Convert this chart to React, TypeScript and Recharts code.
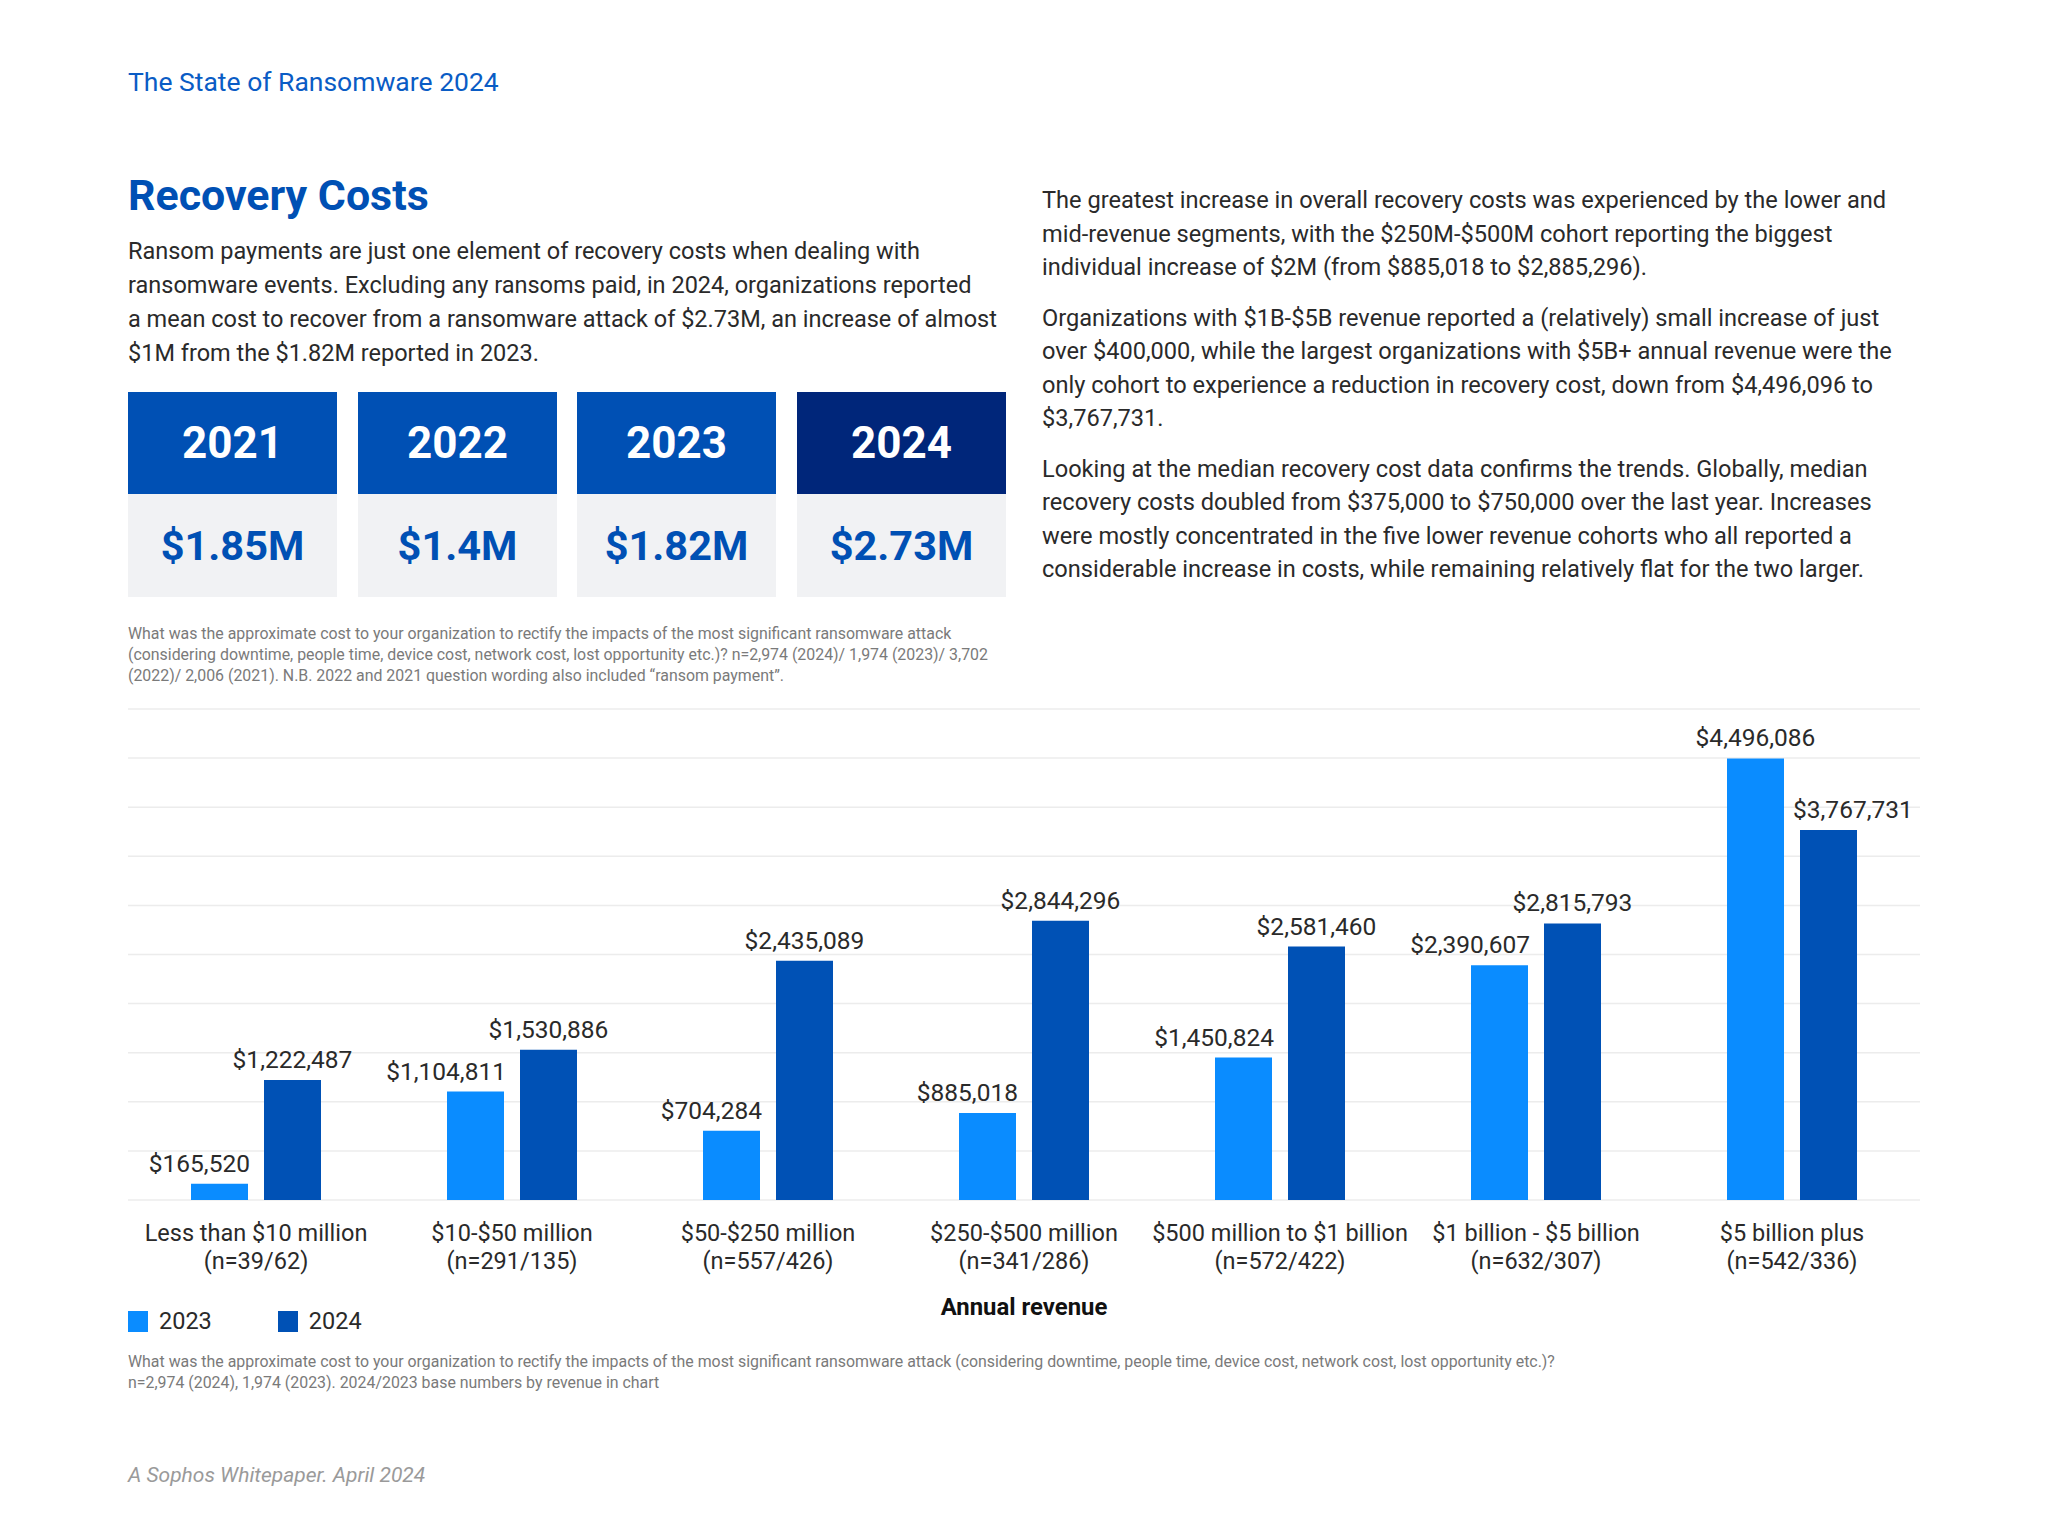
import React from "react";
import { BarChart, Bar, XAxis, YAxis, CartesianGrid, LabelList } from "recharts";

const categories = [
  "Less than $10 million",
  "$10-$50 million",
  "$50-$250 million",
  "$250-$500 million",
  "$500 million to $1 billion",
  "$1 billion - $5 billion",
  "$5 billion plus",
];
const baseCounts = [
  "(n=39/62)",
  "(n=291/135)",
  "(n=557/426)",
  "(n=341/286)",
  "(n=572/422)",
  "(n=632/307)",
  "(n=542/336)",
];
const values2023 = [165520, 1104811, 704284, 885018, 1450824, 2390607, 4496086];
const values2024 = [1222487, 1530886, 2435089, 2844296, 2581460, 2815793, 3767731];
const gridTicks = [0, 500000, 1000000, 1500000, 2000000, 2500000, 3000000, 3500000, 4000000, 4500000, 5000000];
const seriesNames = ["2023", "2024"];

const summaryYears = ["2021", "2022", "2023", "2024"];
const summaryValues = ["$1.85M", "$1.4M", "$1.82M", "$2.73M"];

const introLines = [
  "Ransom payments are just one element of recovery costs when dealing with",
  "ransomware events. Excluding any ransoms paid, in 2024, organizations reported",
  "a mean cost to recover from a ransomware attack of $2.73M, an increase of almost",
  "$1M from the $1.82M reported in 2023.",
];
const rightParagraphs = [
  [
    "The greatest increase in overall recovery costs was experienced by the lower and",
    "mid-revenue segments, with the $250M-$500M cohort reporting the biggest",
    "individual increase of $2M (from $885,018 to $2,885,296).",
  ],
  [
    "Organizations with $1B-$5B revenue reported a (relatively) small increase of just",
    "over $400,000, while the largest organizations with $5B+ annual revenue were the",
    "only cohort to experience a reduction in recovery cost, down from $4,496,096 to",
    "$3,767,731.",
  ],
  [
    "Looking at the median recovery cost data confirms the trends. Globally, median",
    "recovery costs doubled from $375,000 to $750,000 over the last year. Increases",
    "were mostly concentrated in the five lower revenue cohorts who all reported a",
    "considerable increase in costs, while remaining relatively flat for the two larger.",
  ],
];
const boxNoteLines = [
  "What was the approximate cost to your organization to rectify the impacts of the most significant ransomware attack",
  "(considering downtime, people time, device cost, network cost, lost opportunity etc.)? n=2,974 (2024)/ 1,974 (2023)/ 3,702",
  "(2022)/ 2,006 (2021). N.B. 2022 and 2021 question wording also included \u201cransom payment\u201d.",
];
const chartNoteLines = [
  "What was the approximate cost to your organization to rectify the impacts of the most significant ransomware attack (considering downtime, people time, device cost, network cost, lost opportunity etc.)?",
  "n=2,974 (2024), 1,974 (2023). 2024/2023 base numbers by revenue in chart",
];

const FONT = "Roboto, 'Noto Sans', sans-serif";
const C2023 = "#0a8cff";
const C2024 = "#0051b5";
const NAVY = "#00267a";
const TEXT = "#2a2a2a";

const data = categories.map((c, i) => ({
  category: c,
  n: baseCounts[i],
  y2023: values2023[i],
  y2024: values2024[i],
}));

const fmt = (v: number) => "$" + v.toLocaleString("en-US");

const RevenueTick = (props: any) => {
  const { x, y, payload } = props;
  const i = payload.index;
  return (
    <g transform={`translate(${x},${y})`}>
      <text textAnchor="middle" fontSize={23.5} fill={TEXT} fontFamily={FONT}>
        <tspan x={0} dy={41}>{categories[i]}</tspan>
        <tspan x={0} dy={28}>{baseCounts[i]}</tspan>
      </text>
    </g>
  );
};

const makeLabel = (series: string) => (props: any) => {
  const { x, y, width, index, value } = props;
  const a = values2023[index];
  const b = values2024[index];
  let anchor: "middle" | "end" | "start" = "middle";
  let lx = x + width / 2;
  if (series === "2023" && a < b) {
    anchor = "end";
    lx = x + width + 2;
  }
  if (series === "2024" && b < a) {
    anchor = "start";
    lx = x - 7;
  }
  return (
    <text x={lx} y={y - 12} textAnchor={anchor} fontSize={24.5} fill={TEXT} fontFamily={FONT}>
      {fmt(value)}
    </text>
  );
};

const boxLefts = [128, 358, 577, 797];
const boxWidths = [209, 199, 199, 209];

export default function App() {
  return (
    <div
      style={{
        position: "absolute",
        left: 0,
        top: 0,
        width: 2048,
        height: 1536,
        background: "#fff",
        fontFamily: FONT,
        color: TEXT,
        overflow: "hidden",
      }}
    >
      <div style={{ position: "absolute", left: 128, top: 66, fontSize: 26.5, lineHeight: "32px", color: "#0a5cc5" }}>
        The State of Ransomware 2024
      </div>
      <div style={{ position: "absolute", left: 128, top: 170, fontSize: 42.9, lineHeight: "50px", fontWeight: 700, color: "#0050b4" }}>
        Recovery Costs
      </div>
      <div style={{ position: "absolute", left: 128, top: 234, fontSize: 23.5, lineHeight: "34px", whiteSpace: "nowrap" }}>
        {introLines.map((l, i) => (
          <div key={i}>{l}</div>
        ))}
      </div>

      {summaryYears.map((yr, i) => (
        <div key={yr} style={{ position: "absolute", left: boxLefts[i], top: 392, width: boxWidths[i] }}>
          <div
            style={{
              height: 102,
              background: i === 3 ? NAVY : "#0050b4",
              color: "#fff",
              fontWeight: 700,
              fontSize: 44,
              display: "flex",
              alignItems: "center",
              justifyContent: "center",
            }}
          >
            {yr}
          </div>
          <div
            style={{
              height: 103,
              background: "#f1f2f4",
              color: "#0050b4",
              fontWeight: 700,
              fontSize: 41.5,
              display: "flex",
              alignItems: "center",
              justifyContent: "center",
            }}
          >
            {summaryValues[i]}
          </div>
        </div>
      ))}

      <div style={{ position: "absolute", left: 128, top: 623, fontSize: 15.9, lineHeight: "21px", color: "#7a7a7a", whiteSpace: "nowrap" }}>
        {boxNoteLines.map((l, i) => (
          <div key={i}>{l}</div>
        ))}
      </div>

      <div style={{ position: "absolute", left: 1042, top: 184, fontSize: 23.6, lineHeight: "33.5px", whiteSpace: "nowrap" }}>
        {rightParagraphs.map((p, pi) => (
          <div key={pi} style={{ marginBottom: 17 }}>
            {p.map((l, i) => (
              <div key={i}>{l}</div>
            ))}
          </div>
        ))}
      </div>

      <div style={{ position: "absolute", left: 0, top: 600 }}>
        <BarChart
          width={2048}
          height={700}
          data={data}
          margin={{ top: 109, right: 128, bottom: 30, left: 128 }}
          barCategoryGap="24.5%"
          barGap={16}
        >
          <CartesianGrid horizontal vertical={false} stroke="#ececec" strokeWidth={1.5} />
          <YAxis hide domain={[0, 5000000]} ticks={gridTicks} />
          <XAxis
            dataKey="category"
            axisLine={false}
            tickLine={false}
            tickSize={0}
            tickMargin={0}
            height={70}
            interval={0}
            tick={<RevenueTick />}
          />
          <Bar dataKey="y2023" name={seriesNames[0]} fill={C2023} barSize={57} isAnimationActive={false}>
            <LabelList dataKey="y2023" content={makeLabel("2023")} />
          </Bar>
          <Bar dataKey="y2024" name={seriesNames[1]} fill={C2024} barSize={57} isAnimationActive={false}>
            <LabelList dataKey="y2024" content={makeLabel("2024")} />
          </Bar>
        </BarChart>
      </div>

      <div style={{ position: "absolute", left: 0, width: 2048, top: 1292, textAlign: "center", fontSize: 23.9, lineHeight: "30px", fontWeight: 700, color: "#111" }}>
        Annual revenue
      </div>

      <div style={{ position: "absolute", left: 128, top: 1306, display: "flex", alignItems: "center", fontSize: 23.5, lineHeight: "30px" }}>
        {seriesNames.map((s, i) => (
          <div key={s} style={{ display: "flex", alignItems: "center", marginRight: 66 }}>
            <div style={{ width: 20, height: 21, background: i === 0 ? C2023 : C2024, marginRight: 11 }} />
            <span>{s}</span>
          </div>
        ))}
      </div>

      <div style={{ position: "absolute", left: 128, top: 1351, fontSize: 15.9, lineHeight: "21px", color: "#7a7a7a", whiteSpace: "nowrap" }}>
        {chartNoteLines.map((l, i) => (
          <div key={i}>{l}</div>
        ))}
      </div>

      <div style={{ position: "absolute", left: 128, top: 1461, fontSize: 21, lineHeight: "28px", fontStyle: "italic", color: "#9a9a9a" }}>
        A Sophos Whitepaper. April 2024
      </div>
    </div>
  );
}
